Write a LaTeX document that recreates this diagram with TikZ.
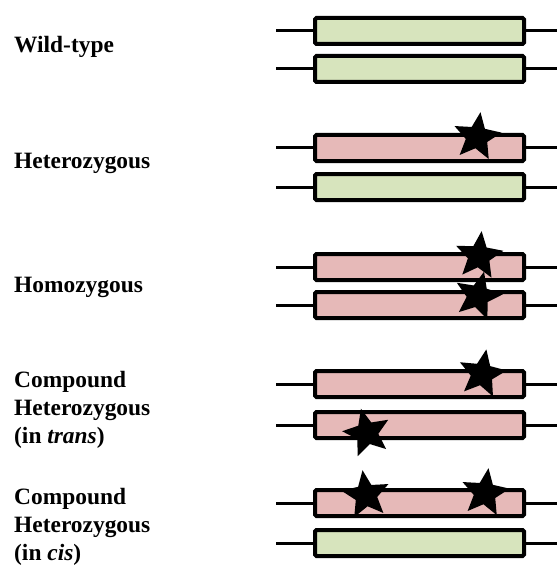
\documentclass[tikz,border=0pt]{standalone}
\usepackage{fontspec}
\setmainfont{Liberation Serif}
\usetikzlibrary{shapes.geometric}
\definecolor{wtgreen}{RGB}{215,228,189}
\definecolor{mutpink}{RGB}{230,185,184}

\tikzstyle{allele}=[draw=black, line width=4bp, rounded corners=1.5bp, minimum width=209bp, minimum height=26bp, inner sep=0pt]
\tikzstyle{wt}=[allele, fill=wtgreen]
\tikzstyle{mut}=[allele, fill=mutpink]
\tikzstyle{strand}=[line width=3bp]
\tikzstyle{variant}=[star, star points=5, star point ratio=2.2, minimum size=50bp, fill=black, inner sep=0pt]
\tikzstyle{label}=[anchor=west, align=left, inner sep=0pt, font=\fontsize{23.5}{28}\selectfont\bfseries]

\begin{document}
\begin{tikzpicture}[x=1bp,y=-1bp]
	  \useasboundingbox (0,0) rectangle (557,565);

	  %----------------------------------------------------------------
	  \node [label] (lwild) at (14,47) {Wild-type};
	  \node [wt] (a1) at (419.5,31) {};
	  \node [wt] (a2) at (419.5,69) {};
	  \coordinate (a1l) at (276,31);  \coordinate (a1r) at (557,31);
	  \coordinate (a2l) at (276,69);  \coordinate (a2r) at (557,69);
	  \draw [strand] (a1l) -- (a1.west);  \draw [strand] (a1.east) -- (a1r);
	  \draw [strand] (a2l) -- (a2.west);  \draw [strand] (a2.east) -- (a2r);

	  %----------------------------------------------------------------
	  \node [label] (lhet) at (14,163) {Heterozygous};
	  \node [mut] (b1) at (419.5,148) {};
	  \node [wt] (b2) at (419.5,187) {};
	  \coordinate (b1l) at (276,148);  \coordinate (b1r) at (557,148);
	  \coordinate (b2l) at (276,187);  \coordinate (b2r) at (557,187);
	  \draw [strand] (b1l) -- (b1.west);  \draw [strand] (b1.east) -- (b1r);
	  \draw [strand] (b2l) -- (b2.west);  \draw [strand] (b2.east) -- (b2r);
	  \node [variant, rotate=-8] (sb1) at (477,137) {};

	  %----------------------------------------------------------------
	  \node [label] (lhom) at (14,287) {Homozygous};
	  \node [mut] (c1) at (419.5,267) {};
	  \node [mut] (c2) at (419.5,305) {};
	  \coordinate (c1l) at (276,267);  \coordinate (c1r) at (557,267);
	  \coordinate (c2l) at (276,305);  \coordinate (c2r) at (557,305);
	  \draw [strand] (c1l) -- (c1.west);  \draw [strand] (c1.east) -- (c1r);
	  \draw [strand] (c2l) -- (c2.west);  \draw [strand] (c2.east) -- (c2r);
	  \node [variant, rotate=-6] (sc1) at (479,256) {};
	  \node [variant, rotate=-14] (sc2) at (478,296) {};

	  %----------------------------------------------------------------
	  \node [label] (ltrans) at (14,410) {Compound\\Heterozygous\\(in \textit{trans})};
	  \node [mut] (d1) at (419.5,384) {};
	  \node [mut] (d2) at (419.5,425) {};
	  \coordinate (d1l) at (276,384);  \coordinate (d1r) at (557,384);
	  \coordinate (d2l) at (276,425);  \coordinate (d2r) at (557,425);
	  \draw [strand] (d1l) -- (d1.west);  \draw [strand] (d1.east) -- (d1r);
	  \draw [strand] (d2l) -- (d2.west);  \draw [strand] (d2.east) -- (d2r);
	  \node [variant, rotate=-10] (sd1) at (482,374) {};
	  \node [variant, rotate=14] (sd2) at (367,433) {};

	  %----------------------------------------------------------------
	  \node [label] (lcis) at (14,527) {Compound\\Heterozygous\\(in \textit{cis})};
	  \node [mut] (e1) at (419.5,503) {};
	  \node [wt] (e2) at (419.5,543) {};
	  \coordinate (e1l) at (276,503);  \coordinate (e1r) at (557,503);
	  \coordinate (e2l) at (276,543);  \coordinate (e2r) at (557,543);
	  \draw [strand] (e1l) -- (e1.west);  \draw [strand] (e1.east) -- (e1r);
	  \draw [strand] (e2l) -- (e2.west);  \draw [strand] (e2.east) -- (e2r);
	  \node [variant, rotate=8] (se1) at (366,495) {};
	  \node [variant, rotate=-8] (se2) at (485,493) {};

\end{tikzpicture}
\end{document}
